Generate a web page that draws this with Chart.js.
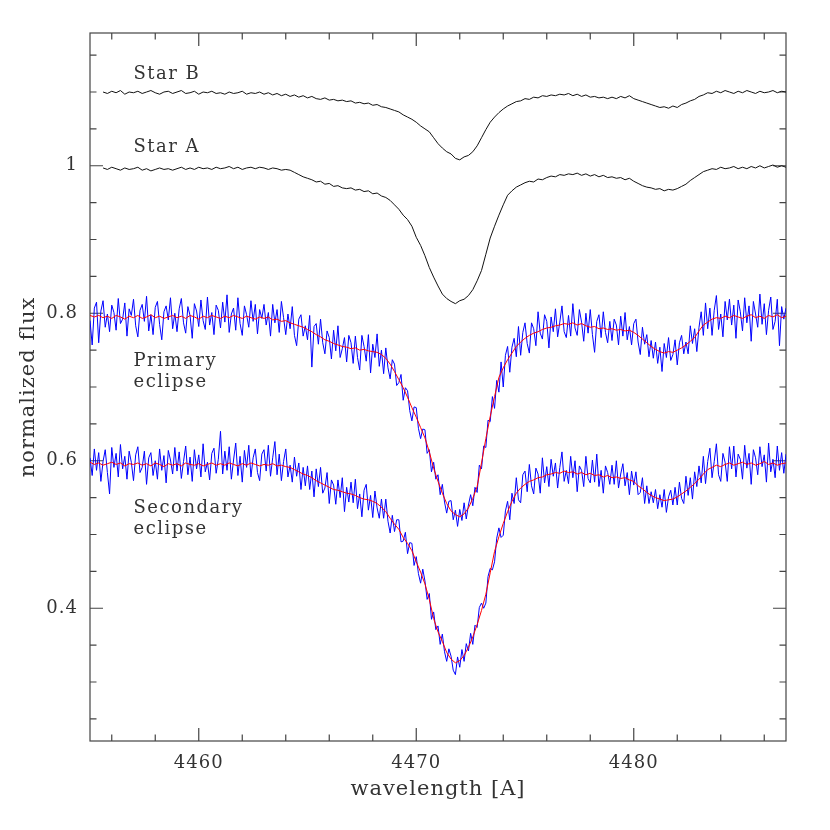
<!DOCTYPE html>
<html>
<head>
<meta charset="utf-8">
<script src="https://cdn.jsdelivr.net/npm/chart.js@4.4.1/dist/chart.umd.min.js"></script>
<style>
  html, body { margin: 0; padding: 0; background: #fff; }
  #wrap { width: 830px; height: 830px; }
</style>
</head>
<body>
<div id="wrap"><canvas id="spectraChart" width="830" height="830"></canvas></div>
<script>
// wavelength grid of the single-star spectra and the models [A]
const wavelength = [
  4455.0, 4455.2, 4455.4, 4455.6, 4455.8, 4456.0, 4456.2, 4456.4, 4456.6, 4456.8,
  4457.0, 4457.2, 4457.4, 4457.6, 4457.8, 4458.0, 4458.2, 4458.4, 4458.6, 4458.8,
  4459.0, 4459.2, 4459.4, 4459.6, 4459.8, 4460.0, 4460.2, 4460.4, 4460.6, 4460.8,
  4461.0, 4461.2, 4461.4, 4461.6, 4461.8, 4462.0, 4462.2, 4462.4, 4462.6, 4462.8,
  4463.0, 4463.2, 4463.4, 4463.6, 4463.8, 4464.0, 4464.2, 4464.4, 4464.6, 4464.8,
  4465.0, 4465.2, 4465.4, 4465.6, 4465.8, 4466.0, 4466.2, 4466.4, 4466.6, 4466.8,
  4467.0, 4467.2, 4467.4, 4467.6, 4467.8, 4468.0, 4468.2, 4468.4, 4468.6, 4468.8,
  4469.0, 4469.2, 4469.4, 4469.6, 4469.8, 4470.0, 4470.2, 4470.4, 4470.6, 4470.8,
  4471.0, 4471.2, 4471.4, 4471.6, 4471.8, 4472.0, 4472.2, 4472.4, 4472.6, 4472.8,
  4473.0, 4473.2, 4473.4, 4473.6, 4473.8, 4474.0, 4474.2, 4474.4, 4474.6, 4474.8,
  4475.0, 4475.2, 4475.4, 4475.6, 4475.8, 4476.0, 4476.2, 4476.4, 4476.6, 4476.8,
  4477.0, 4477.2, 4477.4, 4477.6, 4477.8, 4478.0, 4478.2, 4478.4, 4478.6, 4478.8,
  4479.0, 4479.2, 4479.4, 4479.6, 4479.8, 4480.0, 4480.2, 4480.4, 4480.6, 4480.8,
  4481.0, 4481.2, 4481.4, 4481.6, 4481.8, 4482.0, 4482.2, 4482.4, 4482.6, 4482.8,
  4483.0, 4483.2, 4483.4, 4483.6, 4483.8, 4484.0, 4484.2, 4484.4, 4484.6, 4484.8,
  4485.0, 4485.2, 4485.4, 4485.6, 4485.8, 4486.0, 4486.2, 4486.4, 4486.6, 4486.8,
  4487.0
];

// wavelength grid of the observed eclipse spectra [A]
const obsWavelength = [
  4455.0, 4455.1, 4455.2, 4455.3, 4455.4, 4455.5, 4455.6, 4455.7, 4455.8, 4455.9, 4456.0, 4456.1, 4456.2, 4456.3, 4456.4, 4456.5, 4456.6, 4456.7, 4456.8, 4456.9,
  4457.0, 4457.1, 4457.2, 4457.3, 4457.4, 4457.5, 4457.6, 4457.7, 4457.8, 4457.9, 4458.0, 4458.1, 4458.2, 4458.3, 4458.4, 4458.5, 4458.6, 4458.7, 4458.8, 4458.9,
  4459.0, 4459.1, 4459.2, 4459.3, 4459.4, 4459.5, 4459.6, 4459.7, 4459.8, 4459.9, 4460.0, 4460.1, 4460.2, 4460.3, 4460.4, 4460.5, 4460.6, 4460.7, 4460.8, 4460.9,
  4461.0, 4461.1, 4461.2, 4461.3, 4461.4, 4461.5, 4461.6, 4461.7, 4461.8, 4461.9, 4462.0, 4462.1, 4462.2, 4462.3, 4462.4, 4462.5, 4462.6, 4462.7, 4462.8, 4462.9,
  4463.0, 4463.1, 4463.2, 4463.3, 4463.4, 4463.5, 4463.6, 4463.7, 4463.8, 4463.9, 4464.0, 4464.1, 4464.2, 4464.3, 4464.4, 4464.5, 4464.6, 4464.7, 4464.8, 4464.9,
  4465.0, 4465.1, 4465.2, 4465.3, 4465.4, 4465.5, 4465.6, 4465.7, 4465.8, 4465.9, 4466.0, 4466.1, 4466.2, 4466.3, 4466.4, 4466.5, 4466.6, 4466.7, 4466.8, 4466.9,
  4467.0, 4467.1, 4467.2, 4467.3, 4467.4, 4467.5, 4467.6, 4467.7, 4467.8, 4467.9, 4468.0, 4468.1, 4468.2, 4468.3, 4468.4, 4468.5, 4468.6, 4468.7, 4468.8, 4468.9,
  4469.0, 4469.1, 4469.2, 4469.3, 4469.4, 4469.5, 4469.6, 4469.7, 4469.8, 4469.9, 4470.0, 4470.1, 4470.2, 4470.3, 4470.4, 4470.5, 4470.6, 4470.7, 4470.8, 4470.9,
  4471.0, 4471.1, 4471.2, 4471.3, 4471.4, 4471.5, 4471.6, 4471.7, 4471.8, 4471.9, 4472.0, 4472.1, 4472.2, 4472.3, 4472.4, 4472.5, 4472.6, 4472.7, 4472.8, 4472.9,
  4473.0, 4473.1, 4473.2, 4473.3, 4473.4, 4473.5, 4473.6, 4473.7, 4473.8, 4473.9, 4474.0, 4474.1, 4474.2, 4474.3, 4474.4, 4474.5, 4474.6, 4474.7, 4474.8, 4474.9,
  4475.0, 4475.1, 4475.2, 4475.3, 4475.4, 4475.5, 4475.6, 4475.7, 4475.8, 4475.9, 4476.0, 4476.1, 4476.2, 4476.3, 4476.4, 4476.5, 4476.6, 4476.7, 4476.8, 4476.9,
  4477.0, 4477.1, 4477.2, 4477.3, 4477.4, 4477.5, 4477.6, 4477.7, 4477.8, 4477.9, 4478.0, 4478.1, 4478.2, 4478.3, 4478.4, 4478.5, 4478.6, 4478.7, 4478.8, 4478.9,
  4479.0, 4479.1, 4479.2, 4479.3, 4479.4, 4479.5, 4479.6, 4479.7, 4479.8, 4479.9, 4480.0, 4480.1, 4480.2, 4480.3, 4480.4, 4480.5, 4480.6, 4480.7, 4480.8, 4480.9,
  4481.0, 4481.1, 4481.2, 4481.3, 4481.4, 4481.5, 4481.6, 4481.7, 4481.8, 4481.9, 4482.0, 4482.1, 4482.2, 4482.3, 4482.4, 4482.5, 4482.6, 4482.7, 4482.8, 4482.9,
  4483.0, 4483.1, 4483.2, 4483.3, 4483.4, 4483.5, 4483.6, 4483.7, 4483.8, 4483.9, 4484.0, 4484.1, 4484.2, 4484.3, 4484.4, 4484.5, 4484.6, 4484.7, 4484.8, 4484.9,
  4485.0, 4485.1, 4485.2, 4485.3, 4485.4, 4485.5, 4485.6, 4485.7, 4485.8, 4485.9, 4486.0, 4486.1, 4486.2, 4486.3, 4486.4, 4486.5, 4486.6, 4486.7, 4486.8, 4486.9,
  4487.0
];

// single star spectra (offset)
const starB = [
  null, null, null, 1.100, 1.098, 1.101, 1.099, 1.102, 1.097, 1.100,
  1.099, 1.101, 1.098, 1.100, 1.102, 1.099, 1.097, 1.100, 1.101, 1.098,
  1.100, 1.102, 1.098, 1.099, 1.101, 1.097, 1.100, 1.099, 1.101, 1.098,
  1.099, 1.097, 1.100, 1.098, 1.099, 1.101, 1.097, 1.099, 1.098, 1.100,
  1.097, 1.099, 1.096, 1.098, 1.095, 1.097, 1.094, 1.096, 1.093, 1.095,
  1.092, 1.094, 1.091, 1.090, 1.092, 1.089, 1.090, 1.088, 1.089, 1.087,
  1.088, 1.085, 1.086, 1.084, 1.085, 1.082, 1.083, 1.080, 1.079, 1.077,
  1.075, 1.073, 1.069, 1.066, 1.063, 1.059, 1.054, 1.050, 1.046, 1.038,
  1.030, 1.024, 1.019, 1.016, 1.010, 1.008, 1.012, 1.014, 1.019, 1.027,
  1.038, 1.049, 1.059, 1.066, 1.072, 1.077, 1.081, 1.084, 1.087, 1.088,
  1.091, 1.090, 1.093, 1.092, 1.095, 1.094, 1.096, 1.095, 1.097, 1.096,
  1.098, 1.095, 1.097, 1.094, 1.096, 1.093, 1.094, 1.092, 1.093, 1.091,
  1.093, 1.091, 1.094, 1.092, 1.095, 1.091, 1.089, 1.087, 1.085, 1.083,
  1.081, 1.079, 1.080, 1.078, 1.081, 1.079, 1.083, 1.085, 1.088, 1.090,
  1.094, 1.096, 1.099, 1.098, 1.101, 1.099, 1.102, 1.100, 1.098, 1.101,
  1.099, 1.102, 1.100, 1.098, 1.101, 1.099, 1.100, 1.102, 1.099, 1.101,
  1.100
];

const starA = [
  null, null, null, 0.997, 0.995, 0.998, 0.996, 0.994, 0.997, 0.995,
  0.996, 0.998, 0.994, 0.996, 0.993, 0.995, 0.997, 0.995, 0.996, 0.994,
  0.996, 0.998, 0.995, 0.997, 0.995, 0.998, 0.996, 0.997, 0.995, 0.998,
  0.996, 0.997, 0.999, 0.996, 0.998, 0.995, 0.997, 0.998, 0.996, 0.998,
  0.997, 0.995, 0.997, 0.996, 0.994, 0.995, 0.994, 0.991, 0.988, 0.985,
  0.983, 0.981, 0.978, 0.979, 0.975, 0.976, 0.972, 0.973, 0.970, 0.969,
  0.970, 0.967, 0.968, 0.965, 0.966, 0.962, 0.963, 0.959, 0.957, 0.953,
  0.947, 0.941, 0.933, 0.927, 0.918, 0.903, 0.892, 0.878, 0.862, 0.849,
  0.837, 0.826, 0.820, 0.816, 0.813, 0.817, 0.819, 0.824, 0.832, 0.844,
  0.858, 0.880, 0.902, 0.918, 0.933, 0.947, 0.960, 0.966, 0.971, 0.974,
  0.977, 0.979, 0.978, 0.982, 0.981, 0.984, 0.986, 0.985, 0.988, 0.987,
  0.989, 0.988, 0.990, 0.987, 0.989, 0.986, 0.988, 0.985, 0.987, 0.984,
  0.985, 0.983, 0.984, 0.981, 0.983, 0.979, 0.976, 0.973, 0.971, 0.970,
  0.968, 0.969, 0.966, 0.968, 0.967, 0.969, 0.972, 0.975, 0.980, 0.984,
  0.988, 0.992, 0.994, 0.996, 0.995, 0.998, 0.996, 0.997, 0.999, 0.996,
  0.998, 0.996, 0.999, 0.997, 1.000, 0.997, 0.999, 1.001, 0.998, 1.000,
  0.998
];

// primary eclipse: observed (blue, obsWavelength) and model (red, wavelength)
const primaryObs = [
  0.790, 0.757, 0.807, 0.815, 0.760, 0.803, 0.817, 0.781, 0.799, 0.775, 0.811, 0.801, 0.777, 0.820, 0.786, 0.792, 0.814, 0.769, 0.806, 0.797,
  0.819, 0.783, 0.768, 0.804, 0.812, 0.789, 0.823, 0.776, 0.798, 0.771, 0.808, 0.816, 0.785, 0.764, 0.802, 0.810, 0.791, 0.821, 0.779, 0.800,
  0.775, 0.806, 0.820, 0.787, 0.773, 0.809, 0.797, 0.766, 0.813, 0.803, 0.782, 0.818, 0.790, 0.778, 0.822, 0.784, 0.801, 0.771, 0.811, 0.804,
  0.780, 0.815, 0.788, 0.825, 0.774, 0.799, 0.807, 0.777, 0.821, 0.786, 0.770, 0.810, 0.798, 0.781, 0.817, 0.789, 0.812, 0.772, 0.805, 0.793,
  0.812, 0.784, 0.801, 0.769, 0.812, 0.787, 0.805, 0.774, 0.816, 0.794, 0.771, 0.799, 0.779, 0.809, 0.770, 0.756, 0.792, 0.798, 0.769, 0.783,
  0.764, 0.797, 0.727, 0.782, 0.786, 0.758, 0.792, 0.760, 0.745, 0.776, 0.767, 0.738, 0.777, 0.749, 0.783, 0.740, 0.752, 0.767, 0.734, 0.770,
  0.760, 0.732, 0.769, 0.740, 0.723, 0.770, 0.755, 0.735, 0.771, 0.719, 0.758, 0.740, 0.772, 0.728, 0.750, 0.718, 0.753, 0.726, 0.711, 0.737,
  0.731, 0.702, 0.706, 0.717, 0.682, 0.699, 0.695, 0.668, 0.654, 0.673, 0.672, 0.644, 0.630, 0.643, 0.642, 0.610, 0.615, 0.585, 0.598, 0.575,
  0.581, 0.554, 0.568, 0.544, 0.529, 0.545, 0.546, 0.520, 0.533, 0.511, 0.534, 0.519, 0.543, 0.521, 0.540, 0.554, 0.539, 0.564, 0.557, 0.594,
  0.589, 0.620, 0.618, 0.655, 0.653, 0.687, 0.671, 0.709, 0.693, 0.734, 0.700, 0.743, 0.755, 0.720, 0.754, 0.766, 0.741, 0.782, 0.743, 0.774,
  0.787, 0.759, 0.746, 0.787, 0.779, 0.756, 0.802, 0.773, 0.765, 0.798, 0.789, 0.753, 0.795, 0.775, 0.806, 0.768, 0.788, 0.810, 0.775, 0.767,
  0.797, 0.769, 0.813, 0.780, 0.770, 0.805, 0.788, 0.762, 0.800, 0.773, 0.805, 0.771, 0.747, 0.789, 0.798, 0.767, 0.802, 0.774, 0.760, 0.789,
  0.763, 0.792, 0.784, 0.757, 0.796, 0.769, 0.801, 0.764, 0.782, 0.757, 0.786, 0.792, 0.761, 0.744, 0.781, 0.758, 0.771, 0.741, 0.763, 0.739,
  0.761, 0.732, 0.754, 0.721, 0.759, 0.740, 0.767, 0.736, 0.744, 0.764, 0.730, 0.760, 0.770, 0.745, 0.761, 0.745, 0.783, 0.759, 0.779, 0.748,
  0.781, 0.802, 0.770, 0.814, 0.779, 0.807, 0.770, 0.804, 0.824, 0.778, 0.799, 0.768, 0.816, 0.791, 0.819, 0.784, 0.811, 0.766, 0.818, 0.802,
  0.776, 0.821, 0.787, 0.810, 0.762, 0.816, 0.799, 0.781, 0.826, 0.785, 0.813, 0.771, 0.804, 0.822, 0.778, 0.789, 0.819, 0.756, 0.809, 0.792,
  0.807
];

const primaryModel = [
  0.797, 0.795, 0.797, 0.794, 0.796, 0.793, 0.797, 0.795, 0.792, 0.796,
  0.794, 0.797, 0.793, 0.795, 0.798, 0.794, 0.796, 0.793, 0.795, 0.797,
  0.794, 0.796, 0.793, 0.797, 0.795, 0.792, 0.796, 0.794, 0.797, 0.795,
  0.793, 0.796, 0.794, 0.797, 0.795, 0.793, 0.796, 0.794, 0.792, 0.795,
  0.793, 0.795, 0.791, 0.792, 0.789, 0.790, 0.787, 0.785, 0.783, 0.781,
  0.778, 0.775, 0.771, 0.768, 0.764, 0.762, 0.759, 0.757, 0.755, 0.754,
  0.752, 0.753, 0.750, 0.751, 0.749, 0.748, 0.747, 0.744, 0.739, 0.731,
  0.721, 0.710, 0.699, 0.686, 0.672, 0.659, 0.645, 0.631, 0.612, 0.590,
  0.572, 0.556, 0.542, 0.532, 0.527, 0.524, 0.528, 0.536, 0.549, 0.565,
  0.597, 0.630, 0.660, 0.687, 0.713, 0.726, 0.737, 0.746, 0.755, 0.761,
  0.766, 0.770, 0.773, 0.775, 0.778, 0.780, 0.781, 0.783, 0.784, 0.786,
  0.785, 0.787, 0.784, 0.786, 0.783, 0.781, 0.782, 0.779, 0.780, 0.778,
  0.779, 0.777, 0.778, 0.776, 0.777, 0.774, 0.770, 0.765, 0.760, 0.755,
  0.751, 0.748, 0.746, 0.748, 0.747, 0.750, 0.753, 0.757, 0.762, 0.767,
  0.776, 0.784, 0.788, 0.792, 0.794, 0.793, 0.796, 0.794, 0.797, 0.795,
  0.793, 0.796, 0.798, 0.794, 0.796, 0.793, 0.797, 0.795, 0.798, 0.794,
  0.796
];

// secondary eclipse: observed (blue, obsWavelength) and model (red, wavelength)
const secondaryObs = [
  0.604, 0.580, 0.616, 0.587, 0.611, 0.572, 0.599, 0.615, 0.584, 0.555, 0.618, 0.591, 0.610, 0.578, 0.622, 0.589, 0.606, 0.575, 0.613, 0.598,
  0.573, 0.608, 0.619, 0.584, 0.591, 0.613, 0.568, 0.604, 0.611, 0.580, 0.600, 0.575, 0.616, 0.587, 0.607, 0.570, 0.614, 0.601, 0.582, 0.618,
  0.586, 0.612, 0.576, 0.599, 0.620, 0.581, 0.605, 0.572, 0.615, 0.589, 0.608, 0.578, 0.623, 0.585, 0.598, 0.574, 0.610, 0.617, 0.583, 0.602,
  0.640, 0.582, 0.613, 0.587, 0.619, 0.575, 0.601, 0.624, 0.580, 0.606, 0.571, 0.614, 0.591, 0.621, 0.578, 0.604, 0.616, 0.584, 0.573, 0.609,
  0.615, 0.586, 0.621, 0.579, 0.604, 0.626, 0.581, 0.609, 0.573, 0.599, 0.616, 0.578, 0.594, 0.571, 0.605, 0.579, 0.597, 0.561, 0.591, 0.566,
  0.593, 0.561, 0.586, 0.551, 0.589, 0.565, 0.591, 0.556, 0.563, 0.584, 0.542, 0.574, 0.567, 0.541, 0.574, 0.550, 0.577, 0.531, 0.564, 0.544,
  0.571, 0.543, 0.575, 0.535, 0.555, 0.524, 0.560, 0.568, 0.533, 0.553, 0.523, 0.559, 0.536, 0.522, 0.548, 0.522, 0.548, 0.518, 0.502, 0.526,
  0.504, 0.520, 0.520, 0.490, 0.491, 0.503, 0.474, 0.489, 0.488, 0.458, 0.470, 0.447, 0.434, 0.453, 0.437, 0.412, 0.420, 0.385, 0.395, 0.371,
  0.376, 0.351, 0.365, 0.341, 0.328, 0.345, 0.335, 0.316, 0.310, 0.334, 0.320, 0.344, 0.328, 0.352, 0.342, 0.366, 0.351, 0.377, 0.374, 0.401,
  0.407, 0.400, 0.407, 0.443, 0.454, 0.452, 0.463, 0.495, 0.509, 0.496, 0.499, 0.532, 0.545, 0.520, 0.556, 0.542, 0.577, 0.547, 0.543, 0.581,
  0.586, 0.558, 0.595, 0.566, 0.555, 0.590, 0.582, 0.556, 0.604, 0.570, 0.592, 0.565, 0.602, 0.579, 0.597, 0.563, 0.591, 0.612, 0.572, 0.587,
  0.569, 0.606, 0.577, 0.600, 0.558, 0.593, 0.587, 0.565, 0.606, 0.576, 0.570, 0.601, 0.571, 0.609, 0.565, 0.587, 0.556, 0.593, 0.584, 0.568,
  0.594, 0.568, 0.600, 0.563, 0.582, 0.596, 0.566, 0.584, 0.554, 0.586, 0.567, 0.585, 0.554, 0.557, 0.577, 0.542, 0.566, 0.542, 0.558, 0.543,
  0.561, 0.535, 0.554, 0.537, 0.561, 0.530, 0.551, 0.560, 0.540, 0.564, 0.540, 0.571, 0.549, 0.542, 0.579, 0.553, 0.577, 0.548, 0.585, 0.565,
  0.593, 0.570, 0.606, 0.569, 0.599, 0.617, 0.577, 0.599, 0.623, 0.581, 0.572, 0.610, 0.598, 0.572, 0.619, 0.589, 0.620, 0.578, 0.609, 0.602,
  0.575, 0.621, 0.590, 0.610, 0.568, 0.615, 0.604, 0.581, 0.619, 0.592, 0.608, 0.571, 0.624, 0.585, 0.602, 0.577, 0.620, 0.587, 0.611, 0.583,
  0.609
];

const secondaryModel = [
  0.598, 0.595, 0.597, 0.594, 0.596, 0.598, 0.595, 0.597, 0.593, 0.596,
  0.595, 0.597, 0.594, 0.596, 0.593, 0.597, 0.595, 0.592, 0.596, 0.594,
  0.596, 0.593, 0.597, 0.595, 0.594, 0.596, 0.593, 0.595, 0.597, 0.594,
  0.596, 0.594, 0.597, 0.595, 0.593, 0.596, 0.594, 0.597, 0.595, 0.593,
  0.595, 0.594, 0.596, 0.593, 0.594, 0.592, 0.591, 0.588, 0.585, 0.582,
  0.580, 0.577, 0.573, 0.570, 0.567, 0.564, 0.561, 0.560, 0.558, 0.556,
  0.555, 0.553, 0.550, 0.548, 0.547, 0.545, 0.542, 0.537, 0.531, 0.522,
  0.514, 0.507, 0.496, 0.488, 0.478, 0.463, 0.449, 0.433, 0.412, 0.386,
  0.368, 0.355, 0.340, 0.331, 0.326, 0.329, 0.336, 0.347, 0.361, 0.378,
  0.397, 0.419, 0.448, 0.477, 0.497, 0.515, 0.531, 0.545, 0.556, 0.563,
  0.568, 0.572, 0.574, 0.577, 0.578, 0.581, 0.582, 0.584, 0.583, 0.586,
  0.584, 0.585, 0.582, 0.584, 0.581, 0.583, 0.580, 0.581, 0.578, 0.580,
  0.577, 0.578, 0.576, 0.577, 0.574, 0.572, 0.566, 0.562, 0.557, 0.553,
  0.550, 0.548, 0.546, 0.547, 0.548, 0.551, 0.555, 0.559, 0.564, 0.569,
  0.575, 0.582, 0.588, 0.591, 0.594, 0.592, 0.595, 0.597, 0.594, 0.596,
  0.598, 0.595, 0.597, 0.594, 0.596, 0.599, 0.595, 0.597, 0.594, 0.596,
  0.597
];

// ticks
const xMajorTicks = [4460, 4470, 4480];
const xMinorTicks = [4456, 4458, 4462, 4464, 4466, 4468, 4472, 4474, 4476, 4478, 4482, 4484, 4486];
const yMajorTicks = [0.4, 0.6, 0.8, 1];
const yMinorTicks = [0.25, 0.3, 0.35, 0.45, 0.5, 0.55, 0.65, 0.7, 0.75, 0.85, 0.9, 0.95, 1.05, 1.1, 1.15];

// curve names, in data coordinates (left edge, baseline)
const curveLabels = [
  { text: "Star B", x: 4457.0, y: 1.118 },
  { text: "Star A", x: 4457.0, y: 1.018 },
  { text: "Primary", x: 4457.0, y: 0.728 },
  { text: "eclipse", x: 4457.0, y: 0.700 },
  { text: "Secondary", x: 4457.0, y: 0.529 },
  { text: "eclipse", x: 4457.0, y: 0.501 }
];

const serif = "'DejaVu Serif', 'Liberation Serif', serif";
const inkColor = "#333";

// frame with inward ticks on all four sides
const framePlugin = {
  id: "frame",
  beforeDraw(chart) {
    chart.ctx.letterSpacing = "1px";
  },
  beforeDatasetsDraw(chart) {
    const { ctx, chartArea: a, scales } = chart;
    const xs = scales.x, ys = scales.y;
    ctx.save();
    ctx.strokeStyle = "#444";
    ctx.lineWidth = 1.2;
    ctx.strokeRect(a.left, a.top, a.right - a.left, a.bottom - a.top);
    ctx.beginPath();
    const xTick = (v, len) => {
      const px = xs.getPixelForValue(v);
      ctx.moveTo(px, a.bottom); ctx.lineTo(px, a.bottom - len);
      ctx.moveTo(px, a.top); ctx.lineTo(px, a.top + len);
    };
    const yTick = (v, len) => {
      const py = ys.getPixelForValue(v);
      ctx.moveTo(a.left, py); ctx.lineTo(a.left + len, py);
      ctx.moveTo(a.right, py); ctx.lineTo(a.right - len, py);
    };
    xMajorTicks.forEach((v) => xTick(v, 13));
    xMinorTicks.forEach((v) => xTick(v, 6.5));
    yMajorTicks.forEach((v) => yTick(v, 13));
    yMinorTicks.forEach((v) => yTick(v, 6.5));
    ctx.stroke();
    ctx.restore();
  },
  afterDatasetsDraw(chart) {
    const { ctx, scales } = chart;
    ctx.save();
    ctx.letterSpacing = "1.5px";
    ctx.font = "18px " + serif;
    ctx.fillStyle = inkColor;
    ctx.textAlign = "left";
    ctx.textBaseline = "alphabetic";
    curveLabels.forEach((l) => {
      ctx.fillText(l.text, scales.x.getPixelForValue(l.x), scales.y.getPixelForValue(l.y));
    });
    ctx.restore();
  },
};

const toPoints = (xs, ys) => xs.map((x, i) => ({ x: x, y: ys[i] }));

const lineStyle = (color, order) => ({
  borderColor: color,
  borderWidth: 1,
  pointRadius: 0,
  tension: 0,
  fill: false,
  spanGaps: false,
  order: order,
});

const ctx = document.getElementById("spectraChart").getContext("2d");
const spectraChart = new Chart(ctx, {
  type: "line",
  data: {
    datasets: [
      { label: "Star B", data: toPoints(wavelength, starB), ...lineStyle("#111", 0) },
      { label: "Star A", data: toPoints(wavelength, starA), ...lineStyle("#111", 0) },
      { label: "Primary model", data: toPoints(wavelength, primaryModel), ...lineStyle("#ff0000", 1) },
      { label: "Secondary model", data: toPoints(wavelength, secondaryModel), ...lineStyle("#ff0000", 1) },
      { label: "Primary observed", data: toPoints(obsWavelength, primaryObs), ...lineStyle("#0000ff", 2) },
      { label: "Secondary observed", data: toPoints(obsWavelength, secondaryObs), ...lineStyle("#0000ff", 2) },
    ],
  },
  options: {
    responsive: false,
    animation: false,
    devicePixelRatio: 1,
    layout: { padding: { top: 33, right: 44, left: 0, bottom: 0 } },
    plugins: { legend: { display: false }, tooltip: { enabled: false } },
    scales: {
      x: {
        type: "linear",
        min: 4455,
        max: 4487,
        afterBuildTicks: (s) => { s.ticks = xMajorTicks.map((v) => ({ value: v })); },
        afterFit: (s) => { s.height = 89; },
        grid: { display: false, drawTicks: false },
        border: { display: false },
        ticks: {
          autoSkip: false,
          maxRotation: 0,
          padding: 12,
          color: inkColor,
          font: { family: serif, size: 18 },
          callback: (v) => String(v),
        },
        title: {
          display: true,
          text: "wavelength [A]",
          color: inkColor,
          font: { family: serif, size: 21 },
          padding: { top: 0, bottom: 28 },
        },
      },
      y: {
        type: "linear",
        min: 0.22,
        max: 1.18,
        afterBuildTicks: (s) => { s.ticks = yMajorTicks.map((v) => ({ value: v })); },
        afterFit: (s) => { s.width = 90; },
        grid: { display: false, drawTicks: false },
        border: { display: false },
        ticks: {
          autoSkip: false,
          padding: 12,
          color: inkColor,
          font: { family: serif, size: 18 },
          callback: (v) => String(v),
        },
        title: {
          display: true,
          text: "normalized flux",
          color: inkColor,
          font: { family: serif, size: 21 },
          padding: { top: 16, bottom: 0 },
        },
      },
    },
  },
  plugins: [framePlugin],
});
</script>
</body>
</html>
